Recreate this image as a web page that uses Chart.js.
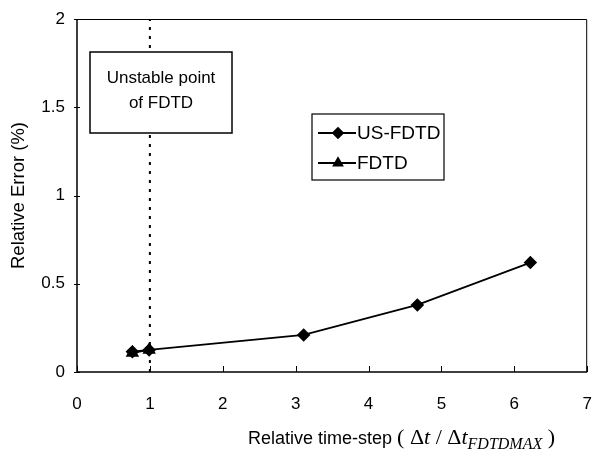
<!DOCTYPE html>
<html>
<head>
<meta charset="utf-8">
<script src="https://cdn.jsdelivr.net/npm/chart.js@4/dist/chart.umd.min.js"></script>
<style>
  html, body { margin: 0; padding: 0; background: #fff; }
  #wrap { position: relative; width: 595px; height: 459px; }
  #xtitle { position: absolute; left: 248px; top: 425px; white-space: nowrap;
            font-family: "Liberation Sans", Arial, sans-serif; font-size: 18px; color: #000; line-height: 24px; }
  #xtitle .m { font-family: "Liberation Serif", "Times New Roman", serif; font-size: 22px; }
  #xtitle .i { font-style: italic; }
  #xtitle sub { font-family: "Liberation Serif", serif; font-style: italic; font-size: 16px; vertical-align: -5px; line-height: 0; }
</style>
</head>
<body>
<div id="wrap">
  <canvas id="c" width="595" height="459"></canvas>
  <div id="xtitle">Relative time-step <span class="m">( Δ<span class="i">t</span> / Δ<span class="i">t</span><sub>FDTDMAX</sub> )</span></div>
</div>
<script>
// ---- data ----
const usX = [0.76, 0.99, 3.11, 4.67, 6.22];
const usY = [0.115, 0.125, 0.21, 0.38, 0.62];
const fdX = [0.76, 0.99];
const fdY = [0.108, 0.125];
const unstableX = 1;
const xTickValues = [0, 1, 2, 3, 4, 5, 6, 7];
const yTickValues = [0, 0.5, 1, 1.5, 2];
const yTickLabels = ["0", "0.5", "1", "1.5", "2"];
const seriesNames = ["US-FDTD", "FDTD"];
const noteLines = ["Unstable point", "of FDTD"];

const toPts = (xs, ys) => xs.map((x, i) => ({ x: x, y: ys[i] }));
const FONT = '"Liberation Sans", Arial, sans-serif';

const framePlugin = {
  id: 'frame',
  beforeDatasetsDraw(chart) {
    const { ctx, chartArea: a, scales } = chart;
    ctx.save();
    ctx.strokeStyle = '#000';
    ctx.lineWidth = 1;
    ctx.beginPath();
    ctx.moveTo(a.left, a.top + 0.5); ctx.lineTo(a.right - 0.5, a.top + 0.5); ctx.lineTo(a.right - 0.5, a.bottom);
    ctx.stroke();
    ctx.lineWidth = 1.5;
    ctx.beginPath();
    ctx.moveTo(a.left, a.top); ctx.lineTo(a.left, a.bottom); ctx.lineTo(a.right, a.bottom);
    ctx.stroke();
    ctx.lineWidth = 1;
    xTickValues.forEach(v => {
      const px = Math.round(scales.x.getPixelForValue(v)) + 0.5;
      ctx.beginPath(); ctx.moveTo(px, a.bottom); ctx.lineTo(px, a.bottom - 6); ctx.stroke();
    });
    yTickValues.forEach(v => {
      const py = Math.round(scales.y.getPixelForValue(v)) + 0.5;
      ctx.beginPath(); ctx.moveTo(a.left - 3, py); ctx.lineTo(a.left + 3, py); ctx.stroke();
    });
    ctx.restore();
  },
  afterDatasetsDraw(chart) {
    const { ctx } = chart;
    ctx.save();
    // annotation box
    const bx = 90, by = 52, bw = 142, bh = 81;
    ctx.fillStyle = '#fff';
    ctx.fillRect(bx, by, bw, bh);
    ctx.strokeStyle = '#000';
    ctx.lineWidth = 1.5;
    ctx.strokeRect(bx, by, bw, bh);
    ctx.fillStyle = '#000';
    ctx.font = '17px ' + FONT;
    ctx.textAlign = 'center';
    ctx.textBaseline = 'middle';
    ctx.fillText(noteLines[0], bx + bw / 2, by + 26);
    ctx.fillText(noteLines[1], bx + bw / 2, by + 51);

    // legend box
    const lx = 312, ly = 114, lw = 132, lh = 66;
    ctx.fillStyle = '#fff';
    ctx.fillRect(lx, ly, lw, lh);
    ctx.lineWidth = 1.2;
    ctx.strokeRect(lx, ly, lw, lh);
    ctx.font = '19px ' + FONT;
    ctx.textAlign = 'left';
    const rows = [ly + 19, ly + 49];
    const styles = ['rectRot', 'triangle'];
    rows.forEach((ry, i) => {
      ctx.strokeStyle = '#000';
      ctx.lineWidth = 1.8;
      ctx.beginPath(); ctx.moveTo(lx + 6, ry); ctx.lineTo(lx + 44, ry); ctx.stroke();
      ctx.fillStyle = '#000';
      Chart.helpers.drawPoint(ctx, { pointStyle: styles[i], radius: 5, borderWidth: 1 }, lx + 26, ry);
      ctx.fillStyle = '#000';
      ctx.fillText(seriesNames[i], lx + 45, ry + 1);
    });
    ctx.restore();
  }
};

new Chart(document.getElementById('c'), {
  type: 'scatter',
  data: {
    datasets: [
      {
        label: 'unstable',
        data: [{ x: unstableX, y: 0 }, { x: unstableX, y: 2 }],
        showLine: true, borderColor: '#000', borderWidth: 2, borderDash: [3, 6],
        pointRadius: 0
      },
      {
        label: seriesNames[0],
        data: toPts(usX, usY),
        showLine: true, borderColor: '#000', borderWidth: 1.8,
        pointStyle: 'rectRot', pointRadius: 5.5, backgroundColor: '#000', pointBorderColor: '#000'
      },
      {
        label: seriesNames[1],
        data: toPts(fdX, fdY),
        showLine: true, borderColor: '#000', borderWidth: 1.8,
        pointStyle: 'triangle', pointRadius: 6, backgroundColor: '#000', pointBorderColor: '#000'
      }
    ]
  },
  options: {
    responsive: false,
    animation: false,
    layout: { padding: { left: 0, right: 0, top: 19, bottom: 0 } },
    plugins: { legend: { display: false }, tooltip: { enabled: false } },
    scales: {
      x: {
        type: 'linear', min: 0, max: 7,
        afterBuildTicks: s => { s.ticks = xTickValues.map(v => ({ value: v })); },
        afterFit: s => { s.height = 87; s.paddingLeft = 0; s.paddingRight = 4; },
        grid: { display: false, drawTicks: false },
        border: { display: false },
        ticks: { color: '#000', font: { family: FONT, size: 17 }, padding: 22, maxRotation: 0,
                 callback: v => String(v) }
      },
      y: {
        type: 'linear', min: 0, max: 2,
        afterBuildTicks: s => { s.ticks = yTickValues.map(v => ({ value: v })); },
        afterFit: s => { s.width = 77; s.paddingTop = 0; s.paddingBottom = 0; },
        grid: { display: false, drawTicks: false },
        border: { display: false },
        ticks: { color: '#000', font: { family: FONT, size: 17 }, padding: 12,
                 callback: v => yTickLabels[yTickValues.indexOf(v)] ?? '' },
        title: { display: true, text: 'Relative Error (%)', color: '#000',
                 font: { family: FONT, size: 18.5 }, padding: { top: 8, bottom: 0 } }
      }
    }
  },
  plugins: [framePlugin]
});
</script>
</body>
</html>
